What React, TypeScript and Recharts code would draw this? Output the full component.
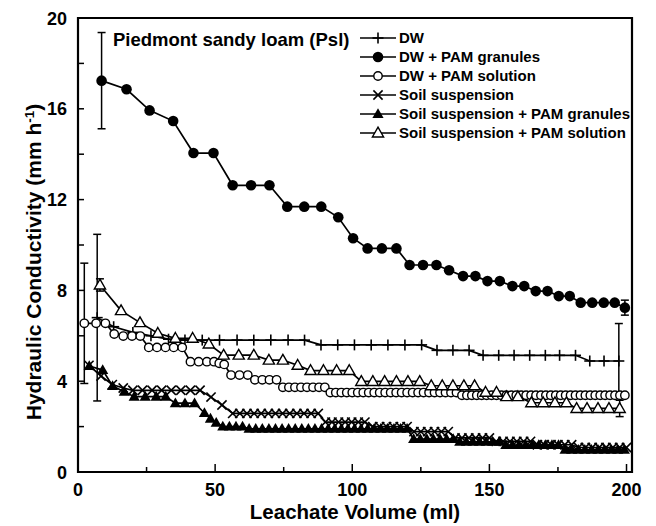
import React from 'react';
import { LineChart, Line, XAxis, YAxis, ErrorBar, ReferenceArea, Legend, Label } from 'recharts';

const FONT = '"Liberation Sans", Arial, Helvetica, sans-serif';

const X_TICKS = [0, 25, 50, 75, 100, 125, 150, 175, 200];
const X_TICK_LABELS = ['0', '', '50', '', '100', '', '150', '', '200'];
const Y_TICKS = [0, 2, 4, 6, 8, 10, 12, 14, 16, 18, 20];
const Y_TICK_LABELS = ['0', '', '4', '', '8', '', '12', '', '16', '', '20'];

const SERIES_NAMES = [
  'DW',
  'DW + PAM granules',
  'DW + PAM solution',
  'Soil suspension',
  'Soil suspension + PAM granules',
  'Soil suspension + PAM solution',
];
const MARKERS = ['plus', 'fcircle', 'ocircle', 'cross', 'ftri', 'otri'];

// [leachate volume (ml), hydraulic conductivity (mm/h)]
const DW: [number, number][] = [
  [7, 6.8], [13, 6.4], [20, 6.15], [26.6, 6.0], [33, 5.85], [39, 5.81], [45.3, 5.81], [51.6, 5.81],
  [58, 5.81], [64.1, 5.81], [70.3, 5.81], [76.6, 5.81], [82.6, 5.81], [88.6, 5.6], [94.7, 5.6],
  [100.8, 5.6], [106.9, 5.6], [113, 5.6], [119.2, 5.6], [125.3, 5.6], [130.9, 5.36], [136.7, 5.36],
  [142.6, 5.36], [147.7, 5.14], [153.4, 5.14], [159, 5.14], [164.7, 5.14], [170.4, 5.14], [175.6, 5.14],
  [181.4, 5.14], [186.6, 4.89], [191.8, 4.89], [197.2, 4.89],
];
const DW_ERR: Record<number, number> = { 0: 3.67, 32: 1.65 };

const DW_GRAN: [number, number][] = [
  [8.6, 17.24], [17.7, 16.86], [26.1, 15.93], [34.7, 15.46], [42.1, 14.05], [49.4, 14.05], [56.4, 12.63],
  [63.1, 12.63], [69.8, 12.63], [76.3, 11.69], [82.5, 11.69], [88.7, 11.69], [94.9, 11.22], [100.3, 10.3],
  [105.6, 9.85], [110.8, 9.85], [116.1, 9.85], [120.9, 9.12], [125.8, 9.12], [130.7, 9.12], [135.3, 8.89],
  [140.4, 8.63], [144.9, 8.63], [149.3, 8.41], [153.8, 8.41], [158.4, 8.19], [162.7, 8.19], [166.9, 7.97],
  [171.2, 7.97], [175.3, 7.75], [179.3, 7.75], [183.3, 7.46], [187.5, 7.46], [191.7, 7.46], [195.7, 7.46],
  [199.4, 7.24],
];
const DW_GRAN_ERR: Record<number, number> = { 0: 2.12, 35: 0.33 };

const DW_SOL: [number, number][] = [
  [2.3, 6.55], [6.6, 6.55], [10.0, 6.55], [13.2, 6.08], [16.5, 5.99], [19.7, 5.99], [22.7, 5.99],
  [25.8, 5.49], [28.8, 5.49], [31.9, 5.49], [34.9, 5.49], [38.0, 5.49], [41.0, 4.86], [44.0, 4.86],
  [47.0, 4.86], [49.6, 4.86], [51.5, 4.79], [53.3, 4.74], [55.8, 4.27], [58.9, 4.27], [61.9, 4.27],
  [64.5, 4.06], [67.2, 4.06], [69.8, 4.06], [72.4, 4.06], [74.7, 3.73], [76.9, 3.73], [79.1, 3.73],
  [81.3, 3.73], [83.5, 3.73], [85.7, 3.73], [87.9, 3.73], [90.0, 3.73], [92.0, 3.5], [94.0, 3.5],
  [96.0, 3.5], [98.0, 3.5], [100.0, 3.5], [102.0, 3.5], [104.0, 3.5], [106.0, 3.5], [108.0, 3.5],
  [110.0, 3.5], [112.0, 3.5], [114.0, 3.5], [116.0, 3.5], [118.0, 3.5], [120.0, 3.5], [122.0, 3.5],
  [124.0, 3.5], [126.0, 3.5], [128.0, 3.5], [130.0, 3.5], [132.0, 3.5], [134.0, 3.5], [136.0, 3.5],
  [138.0, 3.5], [140.0, 3.38], [141.8, 3.38], [143.6, 3.38], [145.4, 3.38], [147.2, 3.38], [149.0, 3.38],
  [150.8, 3.38], [152.6, 3.38], [154.4, 3.38], [156.2, 3.38], [158.0, 3.38], [159.8, 3.38], [161.6, 3.38],
  [163.4, 3.38], [165.2, 3.38], [167.0, 3.38], [168.8, 3.38], [170.6, 3.38], [172.4, 3.38], [174.2, 3.38],
  [176.0, 3.38], [177.8, 3.38], [179.6, 3.38], [181.4, 3.38], [183.2, 3.38], [185.0, 3.38], [186.8, 3.38],
  [188.6, 3.38], [190.4, 3.38], [192.2, 3.38], [194.0, 3.38], [195.8, 3.38], [197.6, 3.38], [199.4, 3.38],
];
const DW_SOL_ERR: Record<number, number> = { 0: 2.65 };

const SOIL: [number, number][] = [
  [4.0, 4.7], [8.4, 4.23], [12.5, 3.85], [16.5, 3.7], [20.0, 3.6], [23.5, 3.6], [27.0, 3.6], [30.5, 3.6],
  [34.0, 3.6], [37.5, 3.6], [41.0, 3.6], [44.5, 3.6], [48.5, 3.3], [52.5, 2.95], [56.4, 2.58], [59.0, 2.58],
  [61.6, 2.58], [64.2, 2.58], [66.8, 2.58], [69.4, 2.58], [72.0, 2.58], [74.6, 2.58], [77.2, 2.58],
  [79.8, 2.58], [82.4, 2.58], [85.0, 2.58], [87.6, 2.58], [90.2, 2.2], [92.6, 2.2], [95.0, 2.2], [97.4, 2.2],
  [99.8, 2.2], [102.2, 2.2], [104.6, 2.2], [107.5, 2.0], [110.0, 2.0], [112.5, 2.0], [115.0, 2.0],
  [117.5, 2.0], [120.0, 2.0], [122.5, 1.78], [125.0, 1.78], [127.5, 1.78], [130.0, 1.78], [132.5, 1.78],
  [135.0, 1.78], [137.5, 1.5], [140.0, 1.5], [142.5, 1.5], [145.0, 1.5], [147.5, 1.5], [150.0, 1.5],
  [152.5, 1.35], [155.0, 1.35], [157.5, 1.35], [160.0, 1.35], [162.5, 1.35], [165.0, 1.35], [167.5, 1.2],
  [170.0, 1.2], [172.5, 1.2], [175.0, 1.2], [177.5, 1.2], [180.0, 1.2], [182.5, 1.08], [185.0, 1.08],
  [187.5, 1.08], [190.0, 1.08], [192.5, 1.08], [195.0, 1.08], [197.5, 1.08], [200.0, 1.08],
];
const SOIL_ERR: Record<number, number> = {};

const SOIL_GRAN: [number, number][] = [
  [4.1, 4.67], [9.0, 4.49], [12.6, 3.79], [16.9, 3.54], [20.5, 3.32], [24.5, 3.32], [28.5, 3.32],
  [32.0, 3.32], [35.5, 3.03], [39.0, 3.03], [42.5, 3.03], [46.1, 2.6], [48.3, 2.35], [50.4, 2.17],
  [52.8, 2.0], [55.2, 2.0], [57.6, 2.0], [60.0, 2.0], [62.4, 1.9], [64.8, 1.9], [67.2, 1.9], [69.6, 1.9],
  [72.0, 1.9], [74.4, 1.9], [76.8, 1.9], [79.2, 1.9], [81.6, 1.9], [84.0, 1.9], [86.4, 1.9], [88.8, 1.9],
  [91.2, 1.9], [93.6, 1.9], [96.0, 1.9], [98.4, 1.9], [100.8, 1.9], [103.2, 1.9], [105.6, 1.9],
  [108.0, 1.9], [110.4, 1.9], [112.8, 1.9], [115.2, 1.9], [117.6, 1.9], [120.0, 1.9], [122.4, 1.45],
  [124.8, 1.45], [127.2, 1.45], [129.6, 1.45], [132.0, 1.45], [134.4, 1.45], [136.8, 1.45], [139.2, 1.33],
  [141.6, 1.33], [144.0, 1.33], [146.4, 1.33], [148.8, 1.33], [151.2, 1.33], [153.6, 1.33], [156.0, 1.19],
  [158.4, 1.19], [160.8, 1.19], [163.2, 1.19], [165.6, 1.19], [168.0, 1.19], [170.4, 1.19], [172.8, 1.19],
  [175.2, 1.19], [177.6, 0.98], [180.0, 0.98], [182.4, 0.98], [184.8, 0.98], [187.2, 0.98], [189.6, 0.98],
  [192.0, 0.98], [194.4, 0.98], [196.8, 0.98], [199.2, 0.98],
];
const SOIL_GRAN_ERR: Record<number, number> = {};

const SOIL_SOL: [number, number][] = [
  [8.0, 8.24], [15.7, 7.11], [22.6, 6.58], [29.1, 6.11], [35.5, 5.89], [41.8, 5.89], [47.7, 5.64],
  [53.1, 5.15], [58.6, 5.15], [64.1, 5.15], [69.6, 4.93], [74.7, 4.93], [80.1, 4.7], [84.8, 4.47],
  [89.5, 4.47], [94.3, 4.47], [98.9, 4.47], [103.3, 3.99], [107.5, 3.99], [111.8, 3.99], [116.1, 3.99],
  [120.3, 3.99], [124.6, 3.99], [128.8, 3.8], [132.8, 3.8], [136.7, 3.8], [140.7, 3.8], [144.6, 3.8],
  [148.6, 3.51], [152.6, 3.51], [156.2, 3.32], [160.4, 3.32], [165.3, 3.05], [169.6, 3.05], [173.9, 3.05],
  [178.1, 3.05], [181.8, 2.8], [185.6, 2.8], [189.6, 2.8], [193.6, 2.8], [197.5, 2.8],
];
const SOIL_SOL_ERR: Record<number, number> = { 0: 0.27, 40: 0.36 };

const toData = (pts: [number, number][], err: Record<number, number>) =>
  pts.map(([x, y], i) => ({ x, y, e: err[i] }));

const SERIES = [
  toData(DW, DW_ERR),
  toData(DW_GRAN, DW_GRAN_ERR),
  toData(DW_SOL, DW_SOL_ERR),
  toData(SOIL, SOIL_ERR),
  toData(SOIL_GRAN, SOIL_GRAN_ERR),
  toData(SOIL_SOL, SOIL_SOL_ERR),
];

function Marker({ kind, cx, cy }: { kind: string; cx: number; cy: number }) {
  const s = '#000';
  if (cx == null || cy == null || isNaN(cx) || isNaN(cy)) return null;
  switch (kind) {
    case 'plus':
      return (
        <g>
          <line x1={cx - 5.5} x2={cx + 5.5} y1={cy} y2={cy} stroke={s} strokeWidth={1.6} />
          <line x1={cx} x2={cx} y1={cy - 5.5} y2={cy + 5.5} stroke={s} strokeWidth={1.6} />
        </g>
      );
    case 'fcircle':
      return <circle cx={cx} cy={cy} r={5.3} fill={s} />;
    case 'ocircle':
      return <circle cx={cx} cy={cy} r={4.2} fill="#fff" stroke={s} strokeWidth={1.4} />;
    case 'cross':
      return (
        <g>
          <line x1={cx - 4.6} x2={cx + 4.6} y1={cy - 4.6} y2={cy + 4.6} stroke={s} strokeWidth={1.6} />
          <line x1={cx - 4.6} x2={cx + 4.6} y1={cy + 4.6} y2={cy - 4.6} stroke={s} strokeWidth={1.6} />
        </g>
      );
    case 'ftri':
      return <polygon points={`${cx},${cy - 5.8} ${cx + 5.6},${cy + 4} ${cx - 5.6},${cy + 4}`} fill={s} />;
    case 'otri':
      return (
        <polygon
          points={`${cx},${cy - 5.8} ${cx + 5.6},${cy + 4} ${cx - 5.6},${cy + 4}`}
          fill="#fff"
          stroke={s}
          strokeWidth={1.4}
        />
      );
    default:
      return null;
  }
}

const makeDot = (kind: string) => (p: any) => (
  <Marker key={`${kind}-${p.index}`} kind={kind} cx={p.cx} cy={p.cy} />
);

const XTick = (props: any) => {
  const { x, y, payload } = props;
  const i = X_TICKS.indexOf(payload.value);
  const label = X_TICK_LABELS[i];
  const len = label ? 8 : 5;
  return (
    <g>
      <line x1={x} x2={x} y1={y} y2={y - len} stroke="#000" strokeWidth={1.5} />
      {label ? (
        <text x={x} y={y + 23.5} textAnchor="middle" fontSize={18} fontWeight="bold" fontFamily={FONT} fill="#000">
          {label}
        </text>
      ) : null}
    </g>
  );
};

const YTick = (props: any) => {
  const { x, y, payload } = props;
  const i = Y_TICKS.indexOf(payload.value);
  const label = Y_TICK_LABELS[i];
  return (
    <g>
      <line x1={x} x2={x + 6} y1={y} y2={y} stroke="#000" strokeWidth={1.5} />
      {label ? (
        <text x={x - 11} y={y + 6.5} textAnchor="end" fontSize={18} fontWeight="bold" fontFamily={FONT} fill="#000">
          {label}
        </text>
      ) : null}
    </g>
  );
};

const YTitle = () => (
  <text
    x={41}
    y={262}
    transform="rotate(-90, 41, 262)"
    textAnchor="middle"
    fontSize={21}
    fontWeight="bold"
    fontFamily={FONT}
    fill="#000"
  >
    Hydraulic Conductivity (mm h
    <tspan dy={-7} fontSize={13.5}>-1</tspan>
    <tspan dy={7}>)</tspan>
  </text>
);

const XTitle = () => (
  <text x={355} y={519} textAnchor="middle" fontSize={20.5} fontWeight="bold" fontFamily={FONT} fill="#000">
    Leachate Volume (ml)
  </text>
);

const Overlay = () => (
  <svg width={656} height={526} style={{ position: 'absolute', left: 0, top: 0, overflow: 'visible' }}>
    <text x={113} y={46} fontSize={18.5} fontWeight="bold" fontFamily={FONT} fill="#000">
      Piedmont sandy loam (Psl)
    </text>
    {SERIES_NAMES.map((n, i) => {
      const cy = 38 + 19 * i;
      return (
        <g key={n}>
          <line x1={360} x2={396} y1={cy} y2={cy} stroke="#000" strokeWidth={1.6} />
          <Marker kind={MARKERS[i]} cx={378} cy={cy} />
          <text x={399} y={cy + 5.4} fontSize={15} fontWeight="bold" fontFamily={FONT} fill="#000">
            {n}
          </text>
        </g>
      );
    })}
  </svg>
);

export default function App() {
  return (
    <div style={{ position: 'absolute', left: 0, top: 0, width: 656, height: 526, background: '#fff' }}>
      <LineChart width={656} height={526} margin={{ top: 18, right: 24, bottom: 14, left: 0 }}>
        <XAxis
          type="number"
          dataKey="x"
          domain={[0, 202]}
          allowDataOverflow
          ticks={X_TICKS}
          interval={0}
          tick={<XTick />}
          tickLine={false}
          tickSize={0}
          tickMargin={0}
          axisLine={false}
          height={40}
        >
          <Label content={<XTitle />} />
        </XAxis>
        <YAxis
          type="number"
          domain={[0, 20]}
          allowDataOverflow
          ticks={Y_TICKS}
          interval={0}
          tick={<YTick />}
          tickLine={false}
          tickSize={0}
          tickMargin={0}
          axisLine={false}
          width={78}
        >
          <Label content={<YTitle />} />
        </YAxis>
        <ReferenceArea
          x1={0}
          x2={202}
          y1={0}
          y2={20}
          fill="none"
          stroke="#000"
          strokeWidth={2.2}
          ifOverflow="visible"
        />
        {SERIES.map((data, i) => (
          <Line
            key={SERIES_NAMES[i]}
            name={SERIES_NAMES[i]}
            data={data}
            dataKey="y"
            type="linear"
            stroke="#000"
            strokeWidth={1.7}
            dot={makeDot(MARKERS[i])}
            activeDot={false}
            isAnimationActive={false}
          >
            <ErrorBar dataKey="e" direction="y" width={4} stroke="#000" strokeWidth={1.5} />
          </Line>
        ))}
        <Legend
          content={<Overlay />}
          layout="vertical"
          align="center"
          verticalAlign="middle"
          wrapperStyle={{ position: 'absolute', left: 0, top: 0, width: 656, height: 526, pointerEvents: 'none' }}
        />
      </LineChart>
    </div>
  );
}
